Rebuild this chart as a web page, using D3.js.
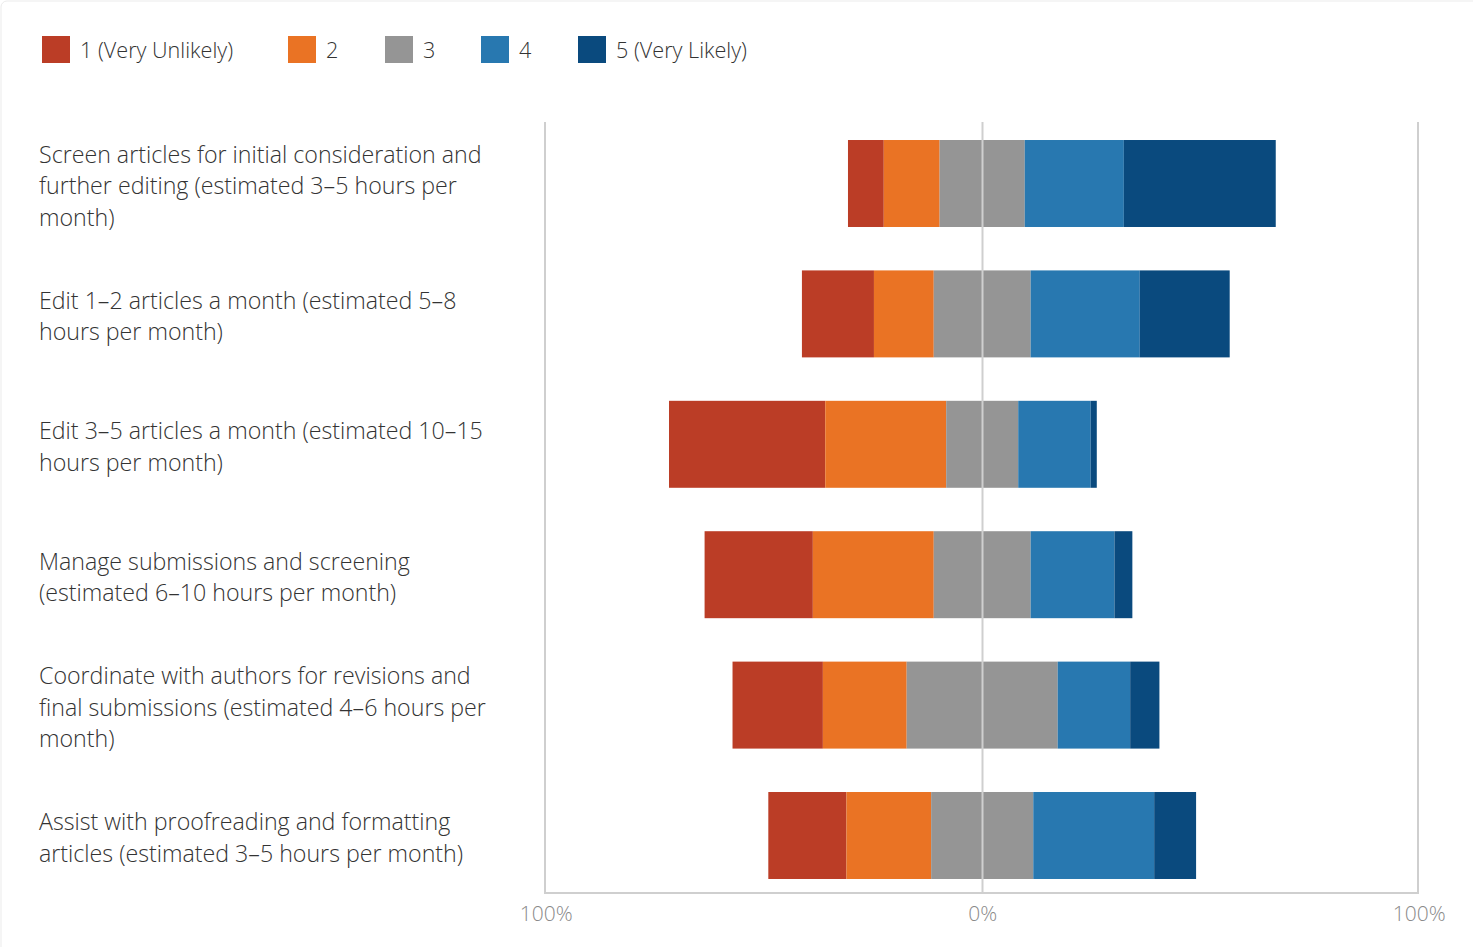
<!DOCTYPE html>
<html>
<head>
<meta charset="utf-8">
<script src="https://cdn.jsdelivr.net/npm/d3@7"></script>
<style>
  html, body { margin: 0; padding: 0; background: #fff; }
  svg { display: block; }
  text { font-family: "Open Sans", "Noto Sans", sans-serif; font-weight: 300; }
</style>
</head>
<body>
<svg id="chart" width="1473" height="947"></svg>
<script>
// ---- Data ----
const categories = [
  ["Screen articles for initial consideration and", "further editing (estimated 3–5 hours per", "month)"],
  ["Edit 1–2 articles a month (estimated 5–8", "hours per month)"],
  ["Edit 3–5 articles a month (estimated 10–15", "hours per month)"],
  ["Manage submissions and screening", "(estimated 6–10 hours per month)"],
  ["Coordinate with authors for revisions and", "final submissions (estimated 4–6 hours per", "month)"],
  ["Assist with proofreading and formatting", "articles (estimated 3–5 hours per month)"]
];
const seriesNames = ["1 (Very Unlikely)", "2", "3", "4", "5 (Very Likely)"];
const colors = ["#BB3D26", "#EA7324", "#959595", "#2878B0", "#0A4A7E"];
// percentages per category for responses 1..5
const s1 = [8.2, 16.5, 35.8, 24.8, 20.7, 17.9];
const s2 = [12.8, 13.7, 27.7, 27.7, 19.2, 19.4];
const s3 = [19.5, 22.2, 16.5, 22.2, 34.6, 23.4];
const s4 = [22.7, 25.0, 16.6, 19.2, 16.6, 27.7];
const s5 = [34.8, 20.6, 1.4, 4.1, 6.7, 9.6];
const tickValues = [-100, 0, 100];
const tickLabels = ["100%", "0%", "100%"];

const series = [s1, s2, s3, s4, s5];

// ---- Layout ----
const svg = d3.select("#chart");
const plotLeft = 545, plotRight = 1418, plotTop = 122, plotBottom = 893;

// faint frame
svg.append("rect")
  .attr("x", 1).attr("y", 1).attr("width", 1600).attr("height", 1100)
  .attr("rx", 6).attr("fill", "none").attr("stroke", "#ebebeb").attr("stroke-width", 1);

const x = d3.scaleLinear().domain([-100, 100]).range([plotLeft + 0.7, plotRight + 0.7]);
const y = d3.scaleBand().domain(d3.range(categories.length))
  .range([118.3, 900.7]).paddingInner(0.333).paddingOuter(0.1665);

// grid lines
const gridColor = "#cfcfcf";
[plotLeft, plotRight].forEach(px => {
  svg.append("line").attr("x1", px).attr("x2", px)
    .attr("y1", plotTop).attr("y2", plotBottom)
    .attr("stroke", gridColor).attr("stroke-width", 2);
});
svg.append("line").attr("x1", plotLeft - 1).attr("x2", plotRight + 1)
  .attr("y1", plotBottom).attr("y2", plotBottom)
  .attr("stroke", gridColor).attr("stroke-width", 2);

// bars (diverging, neutral centered)
const rows = categories.map((c, i) => {
  const vals = series.map(s => s[i]);
  let start = -(vals[0] + vals[1] + vals[2] / 2);
  const segs = vals.map((v, k) => {
    const seg = { k, x0: start, x1: start + v, i };
    start += v;
    return seg;
  });
  return segs;
});

svg.append("g").selectAll("g").data(rows).join("g")
  .selectAll("rect").data(d => d).join("rect")
  .attr("x", d => x(d.x0))
  .attr("width", d => x(d.x1) - x(d.x0))
  .attr("y", d => y(d.i))
  .attr("height", y.bandwidth())
  .attr("fill", d => colors[d.k]);

// center line over bars
svg.append("line").attr("x1", 982.5).attr("x2", 982.5)
  .attr("y1", plotTop).attr("y2", plotBottom)
  .attr("stroke", gridColor).attr("stroke-width", 2);

// x axis tick labels
const axis = d3.axisBottom(x).tickValues(tickValues)
  .tickFormat((d, i) => tickLabels[i]).tickSize(0).tickPadding(0);
const ax = svg.append("g").attr("transform", `translate(0, ${plotBottom + 13})`).call(axis);
ax.select(".domain").remove();
ax.selectAll("text")
  .attr("font-size", 21).attr("fill", "#8a8a8a")
  .style("font-family", '"Open Sans", "Noto Sans", sans-serif').style("font-weight", 300);

// category labels
const lineH = 31.5;
const labelG = svg.append("g");
categories.forEach((lines, i) => {
  const cy = y(i) + y.bandwidth() / 2 + 2.5;
  const t = labelG.append("text").attr("x", 39).attr("font-size", 23.2).attr("fill", "#333");
  lines.forEach((ln, j) => {
    t.append("tspan").attr("x", 39)
      .attr("y", cy + (j - (lines.length - 1) / 2) * lineH)
      .attr("dy", "0.35em").text(ln);
  });
});

// legend
const legendX = [42, 288, 385, 481, 578];
const lg = svg.append("g").selectAll("g").data(seriesNames).join("g")
  .attr("transform", (d, i) => `translate(${legendX[i]}, 36)`);
lg.append("rect").attr("width", 28).attr("height", 27).attr("fill", (d, i) => colors[i]);
lg.append("text").attr("x", 38).attr("y", 14).attr("dy", "0.35em")
  .attr("font-size", 21.6).attr("fill", "#333").text(d => d);
</script>
</body>
</html>
